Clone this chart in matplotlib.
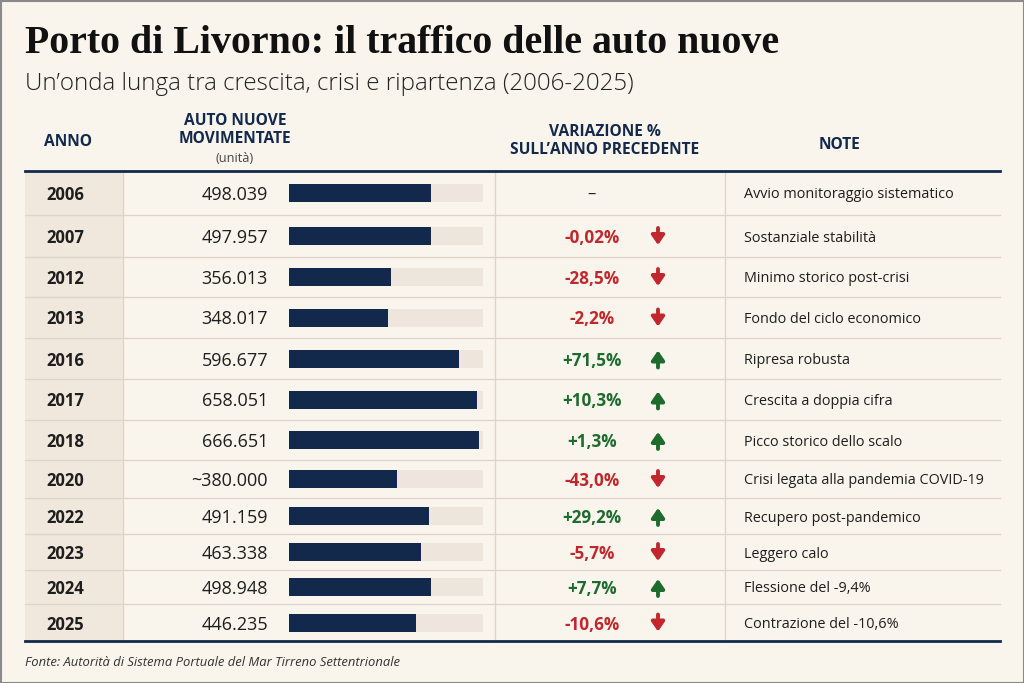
import matplotlib
matplotlib.use("Agg")
from matplotlib import pyplot as plt
from matplotlib.patches import Rectangle

# dati
anni = ["2006", "2007", "2012", "2013", "2016", "2017", "2018", "2020", "2022", "2023", "2024", "2025"]
auto = [498039, 497957, 356013, 348017, 596677, 658051, 666651, 380000, 491159, 463338, 498948, 446235]
auto_label = ["498.039", "497.957", "356.013", "348.017", "596.677", "658.051", "666.651",
              "~380.000", "491.159", "463.338", "498.948", "446.235"]
variazione = [None, -0.02, -28.5, -2.2, 71.5, 10.3, 1.3, -43.0, 29.2, -5.7, 7.7, -10.6]
variazione_label = ["–", "-0,02%", "-28,5%", "-2,2%", "+71,5%", "+10,3%", "+1,3%",
                    "-43,0%", "+29,2%", "-5,7%", "+7,7%", "-10,6%"]
note = ["Avvio monitoraggio sistematico", "Sostanziale stabilità", "Minimo storico post-crisi",
        "Fondo del ciclo economico", "Ripresa robusta", "Crescita a doppia cifra",
        "Picco storico dello scalo", "Crisi legata alla pandemia COVID-19",
        "Recupero post-pandemico", "Leggero calo", "Flessione del -9,4%",
        "Contrazione del -10,6%"]

#* colori
BG = "#f9f4ec"
YEAR_BG = "#f0e8dc"
NAVY = "#13294b"
GRID = "#ddd4c7"
TRACK = "#eee6dc"
RED = "#c0282d"
GREEN = "#1e6b2e"
TXT = "#1e1e1e"
SANS = ["Open Sans", "DejaVu Sans"]

# layout in pixel (righe non uniformi come nel riferimento)
edges = [171, 215, 257, 297, 338, 379, 420, 460, 498, 534, 570, 604, 641]
centers = [(a + b) / 2 for a, b in zip(edges[:-1], edges[1:])]
X0, X1 = 25, 1000

fig = plt.figure(figsize=(10.24, 6.83), dpi=100, facecolor=BG)
ax = fig.add_axes([0, 0, 1, 1])
ax.set_xlim(0, 1024)
ax.set_ylim(683, 0)
ax.axis("off")

ax.add_patch(Rectangle((0.5, 0.5), 1023, 682, fill=False, ec="#8a8a8a", lw=1.5))

ax.text(X0, 53, "Porto di Livorno: il traffico delle auto nuove", fontsize=28.7,
        fontweight="bold", family="Liberation Serif", color="#111111", va="baseline")
ax.text(X0, 90, "Un’onda lunga tra crescita, crisi e ripartenza (2006-2025)", fontsize=17.4,
        fontweight="light", family=SANS, color="#222222", va="baseline")

# intestazioni
hd = dict(fontsize=11.2, fontweight="bold", family=SANS, color=NAVY, ha="center", va="center")
ax.text(68, 142, "ANNO", **hd)
ax.text(235, 130, "AUTO NUOVE\nMOVIMENTATE", linespacing=1.1, **hd)
ax.text(235, 158, "(unità)", fontsize=9.2, family=SANS, color="#444444", ha="center", va="center")
ax.text(605, 141, "VARIAZIONE %\nSULL’ANNO PRECEDENTE", linespacing=1.15, **hd)
ax.text(840, 145, "NOTE", **hd)

# sfondo colonna anni e linee
ax.add_patch(Rectangle((X0, edges[0]), 123 - X0, edges[-1] - edges[0], color=YEAR_BG, lw=0))
for y in edges[1:-1]:
    ax.plot([X0, X1], [y, y], color=GRID, lw=0.9)
for x in [123, 495, 725]:
    ax.plot([x, x], [edges[0], edges[-1]], color=GRID, lw=0.9)
ax.plot([X0, X1], [edges[0], edges[0]], color=NAVY, lw=2)
ax.plot([X0, X1], [edges[-1], edges[-1]], color=NAVY, lw=2)

for i, yc in enumerate(centers):
    yt = yc + 2
    ax.text(65, yt, anni[i], fontsize=12, fontweight="bold", family=SANS, color=TXT,
            ha="center", va="center")
    ax.text(268, yt, auto_label[i], fontsize=13, family=SANS, color=TXT, ha="right", va="center")
    ax.text(744, yt, note[i], fontsize=10.4, family=SANS, color=TXT, ha="left", va="center")
    v = variazione[i]
    if v is None:
        ax.text(592, yt, variazione_label[i], fontsize=12, family=SANS, color=TXT,
                ha="center", va="center")
        continue
    col = GREEN if v > 0 else RED
    ax.text(592, yt, variazione_label[i], fontsize=12.3, fontweight="bold", family=SANS,
            color=col, ha="center", va="center")
    if v > 0:
        start, end = yc + 9, yc - 8
    else:
        start, end = yc - 8, yc + 9
    ax.annotate("", xy=(658, end), xytext=(658, start),
                arrowprops=dict(arrowstyle="-|>,head_length=0.55,head_width=0.38",
                                color=col, lw=2.8, shrinkA=0, shrinkB=0))

ax.text(X0, 663, "Fonte: Autorità di Sistema Portuale del Mar Tirreno Settentrionale",
        fontsize=9.4, style="italic", family=SANS, color="#333333", va="center")

# barre orizzontali
bx = fig.add_axes([289 / 1024, 0, (483 - 289) / 1024, 1])
bx.set_xlim(0, 680000)
bx.set_ylim(683, 0)
bx.axis("off")
bx.patch.set_alpha(0)
bx.barh(centers, [680000] * len(centers), height=18, color=TRACK, lw=0)
bx.barh(centers, auto, height=18, color=NAVY, lw=0)

fig.savefig("out.png", dpi=100, facecolor=BG)
